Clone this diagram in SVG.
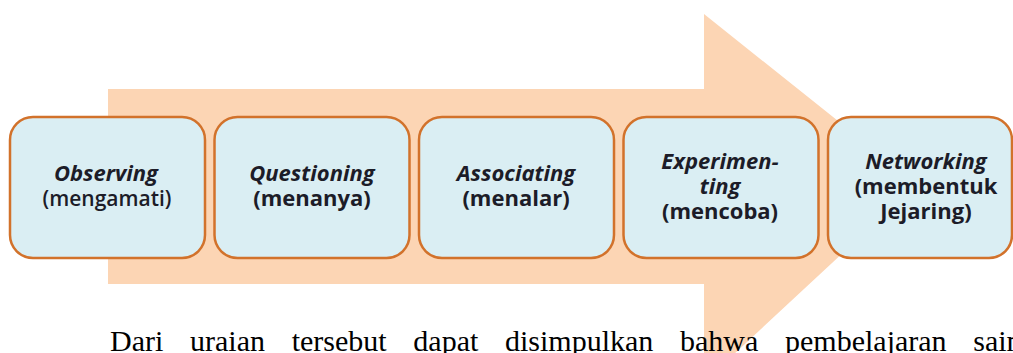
<svg xmlns="http://www.w3.org/2000/svg" width="1013" height="353" viewBox="0 0 1013 353">
<style>
.box{fill:#DAEEF3;stroke:#D2722B;stroke-width:2.5}
.t{font-family:"Open Sans","Liberation Sans",sans-serif;font-weight:700;font-size:22px;fill:#1c1c28;text-anchor:middle}
.i{font-style:italic}
.body{font-family:"Liberation Serif","Times New Roman",serif;font-size:30px;fill:#000}
</style>
<rect width="1013" height="353" fill="#fff"/>
<g id="arrow">
<polygon points="108,89 704,89 704,14 917,184 704,382 704,284 108,284" fill="#FCD5B4"/>
</g>
<g id="observing">
<rect class="box" x="10" y="117" width="195" height="141" rx="23"/>
<text class="t i" x="106" y="181">Observing</text>
<text class="t" x="107" y="206" style="font-weight:600;font-size:21px">(mengamati)</text>
</g>
<g id="questioning">
<rect class="box" x="214.5" y="117" width="195" height="141" rx="23"/>
<text class="t i" x="312" y="181">Questioning</text>
<text class="t" x="312" y="206">(menanya)</text>
</g>
<g id="associating">
<rect class="box" x="419" y="117" width="195" height="141" rx="23"/>
<text class="t i" x="516" y="181">Associating</text>
<text class="t" x="516" y="206">(menalar)</text>
</g>
<g id="experimenting">
<rect class="box" x="623.5" y="117" width="195" height="141" rx="23"/>
<text class="t i" x="720" y="169">Experimen-</text>
<text class="t i" x="720" y="194">ting</text>
<text class="t" x="720" y="219">(mencoba)</text>
</g>
<g id="networking">
<rect class="box" x="828" y="117" width="184" height="141" rx="23"/>
<text class="t i" x="926" y="169">Networking</text>
<text class="t" x="926" y="194">(membentuk</text>
<text class="t" x="926" y="219">Jejaring)</text>
</g>
<g id="connectors"></g>
<text class="body" x="110" y="351" word-spacing="19.2">Dari uraian tersebut dapat disimpulkan bahwa pembelajaran sain</text>
</svg>
